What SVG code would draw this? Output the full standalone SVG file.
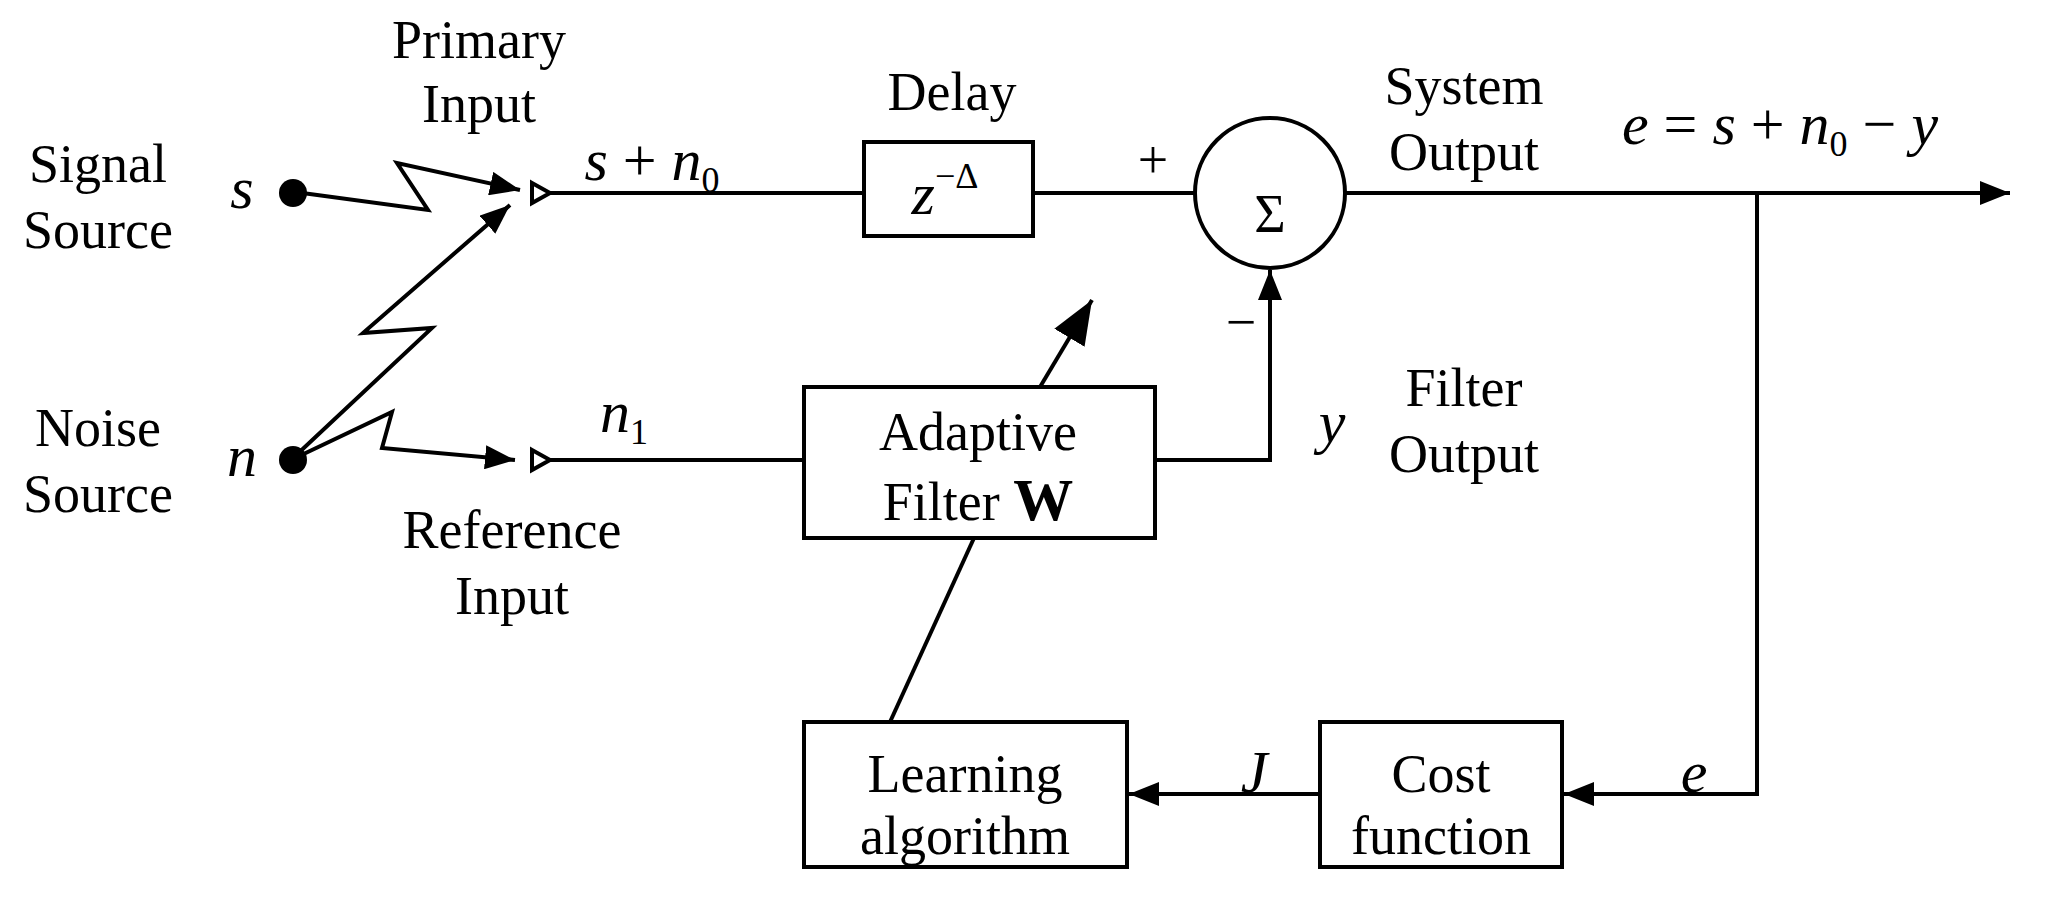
<svg xmlns="http://www.w3.org/2000/svg" width="2048" height="900" viewBox="0 0 2048 900">
<style>
text{font-family:"Liberation Serif",serif;font-size:54px;fill:#000;text-anchor:middle}
.i{font-style:italic}
.m{font-size:60px}
.l{fill:none;stroke:#000;stroke-width:4}
.b{fill:#fff;stroke:#000;stroke-width:4}
</style>
<defs>
<marker id="A" viewBox="0 0 10 8" refX="10" refY="4" markerWidth="30" markerHeight="24" orient="auto" markerUnits="userSpaceOnUse"><path d="M0,0L10,4L0,8z"/></marker>
<marker id="B" viewBox="0 0 10 8" refX="10" refY="4" markerWidth="44" markerHeight="36" orient="auto" markerUnits="userSpaceOnUse"><path d="M0,0L10,4L0,8z"/></marker>
</defs>
<rect width="2048" height="900" fill="#fff"/>
<g id="connectors">
<path class="l" d="M295,192L428,210L397,163L520,190" marker-end="url(#A)"/>
<path class="l" d="M291,460L432,328L363,333L510,205" marker-end="url(#A)"/>
<path class="l" d="M291,460L392,412L382,448L515,460" marker-end="url(#A)"/>
<path class="b" d="M532,183L550,193L532,203z"/>
<path class="b" d="M532,450L550,460L532,470z"/>
<path class="l" d="M550,193H864"/>
<path class="l" d="M1033,193H1195"/>
<path class="l" d="M1346,193H2010" marker-end="url(#A)"/>
<path class="l" d="M1757,193V794H1564" marker-end="url(#A)"/>
<path class="l" d="M1320,794H1129" marker-end="url(#A)"/>
<path class="l" d="M890,722L974,538"/>
<path class="l" d="M1040,387L1092,300" marker-end="url(#B)"/>
<path class="l" d="M550,460H804"/>
<path class="l" d="M1155,460H1270V270" marker-end="url(#A)"/>
</g>
<g id="signal"><circle cx="293" cy="193" r="14"/><text x="98" y="182">Signal</text><text x="98" y="248">Source</text><text class="i m" x="242" y="208">s</text></g>
<g id="noise"><circle cx="293" cy="460" r="14"/><text x="98" y="446">Noise</text><text x="98" y="512">Source</text><text class="i m" x="242" y="476">n</text></g>
<g id="labels">
<text x="479" y="58">Primary</text><text x="479" y="122">Input</text>
<text x="512" y="548">Reference</text><text x="512" y="614">Input</text>
<text class="m" x="652" y="180"><tspan class="i">s</tspan> + <tspan class="i">n</tspan><tspan font-size="36" dy="12">0</tspan></text>
<text class="m" x="624" y="432"><tspan class="i">n</tspan><tspan font-size="36" dy="12">1</tspan></text>
<text x="1153" y="178" font-size="32">+</text>
<text x="1241" y="340" font-size="40">−</text>
<text x="1464" y="104">System</text><text x="1464" y="170">Output</text>
<text class="m" x="1780" y="144"><tspan class="i">e</tspan> = <tspan class="i">s</tspan> + <tspan class="i">n</tspan><tspan font-size="36" dy="12">0</tspan><tspan dy="-12"> − </tspan><tspan class="i">y</tspan></text>
<text class="i m" x="1332" y="442">y</text>
<text x="1464" y="406">Filter</text><text x="1464" y="472">Output</text>
<text class="i m" x="1254" y="792">J</text>
<text class="i m" x="1694" y="792">e</text>
</g>
<g id="delay"><text x="952" y="110">Delay</text><rect class="b" x="864" y="142" width="169" height="94"/><text class="m" x="945" y="214"><tspan class="i">z</tspan><tspan font-size="36" dy="-26">−Δ</tspan></text></g>
<g id="sum"><circle class="b" cx="1270" cy="193" r="75"/><text x="1270" y="232" font-size="110">Σ</text></g>
<g id="adaptive"><rect class="b" x="804" y="387" width="351" height="151"/><text x="978" y="450">Adaptive</text><text x="978" y="520">Filter <tspan font-weight="bold" font-size="60">W</tspan></text></g>
<g id="learning"><rect class="b" x="804" y="722" width="323" height="145"/><text x="965" y="792">Learning</text><text x="965" y="854">algorithm</text></g>
<g id="cost"><rect class="b" x="1320" y="722" width="242" height="145"/><text x="1441" y="792">Cost</text><text x="1441" y="854">function</text></g>
</svg>
